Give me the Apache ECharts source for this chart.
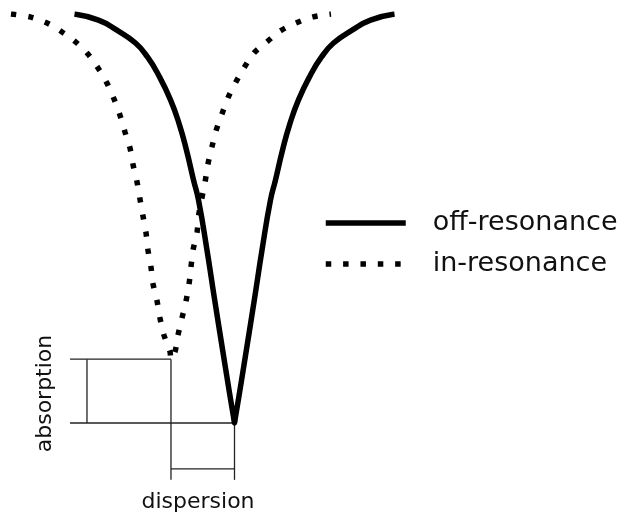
<!DOCTYPE html>
<html><head><meta charset="utf-8">
<script src="https://cdn.jsdelivr.net/npm/echarts@6/dist/echarts.min.js"></script>
<style>html,body{margin:0;padding:0;background:#fff}#c{width:623px;height:518px}</style>
</head><body><div id="c"></div>
<script>
// ---- data (detuning in arbitrary units, level = relative transmission) ----
const seriesNames = ['off-resonance', 'in-resonance'];
const offDetuning = [-10.0, -8.5, -7.375, -6.19, -5.44, -4.75, -4.0, -3.44, -3.0, -2.56, -2.25, -1.72, -1.24, -0.74, -0.31, -0.05, 0,
                     0.05, 0.31, 0.74, 1.24, 1.72, 2.25, 2.56, 3.0, 3.44, 4.0, 4.75, 5.44, 6.19, 7.375, 8.5, 10.0];
const offLevel    = [1.000, 0.985, 0.961, 0.929, 0.895, 0.851, 0.790, 0.729, 0.667, 0.594, 0.545, 0.423, 0.301, 0.178, 0.073, 0.012, 0,
                     0.012, 0.073, 0.178, 0.301, 0.423, 0.545, 0.594, 0.667, 0.729, 0.790, 0.851, 0.895, 0.929, 0.961, 0.985, 1.000];
const inDetuning  = [-13.97, -12.78, -11.72, -10.78, -9.91, -9.16, -8.53, -7.97, -7.53, -7.16, -6.84, -6.53, -6.34, -6.09,
                     -5.91, -5.72, -5.53, -5.41, -5.22, -5.09, -4.84, -4.66, -4.41, -4.03, -3.97,
                     -3.72, -3.53, -3.28, -3.03, -2.84, -2.72, -2.59, -2.34, -2.22, -1.84, -1.66, -1.41, -1.16, -0.78,
                     -0.41, 0.09, 0.59, 1.22, 2.03, 2.84, 3.84, 4.91, 6.03];
const inLevel     = [1.000, 0.993, 0.978, 0.956, 0.931, 0.902, 0.868, 0.831, 0.792, 0.753, 0.711, 0.672, 0.631, 0.589,
                     0.548, 0.506, 0.465, 0.423, 0.381, 0.340, 0.298, 0.257, 0.215, 0.174, 0.156,
                     0.174, 0.215, 0.257, 0.298, 0.340, 0.381, 0.423, 0.467, 0.513, 0.589, 0.633, 0.675, 0.714, 0.756,
                     0.795, 0.834, 0.868, 0.905, 0.932, 0.958, 0.978, 0.993, 1.000];
const annotationLabels = ['absorption', 'dispersion'];
// line minima used by the brackets: [in-resonance, off-resonance]
const minDetuning = [-3.97, 0];
const minLevel = [0.156, 0];

// ---- layout constants for the brackets (axis units) ----
const bracketLeft = -10.28, bracketAbsX = -9.22, bracketTickEnd = -0.139, bracketDispY = -0.112;

const chart = echarts.init(document.getElementById('c'), null, {renderer: 'canvas'});
const FONT = 'DejaVu Sans';
const pairs = (xs, ys) => xs.map((x, i) => [x, ys[i]]);
const annot = (data) => ({
  type: 'line', data, symbol: 'none', clip: false, silent: true, z: 1,
  lineStyle: {color: '#222', width: 1.3}, animation: false
});
const legendBase = (name, top) => ({
  data: [name], left: 323, top, padding: 0, itemWidth: 80, itemHeight: 27,
  itemStyle: {opacity: 0}, lineStyle: {width: 5.5},
  textStyle: {fontFamily: FONT, fontSize: 27, color: '#111', padding: [0, 0, 0, 22]}
});

chart.setOption({
  animation: false,
  textStyle: {fontFamily: FONT},
  grid: {left: 10.5, width: 400, top: 14, bottom: 95, containLabel: false, show: false},
  xAxis: {type: 'value', min: -14, max: 11, show: false},
  yAxis: {type: 'value', min: 0, max: 1, show: false},
  legend: [legendBase(seriesNames[0], 209.5), legendBase(seriesNames[1], 250.5)],
  series: [
    {name: seriesNames[0], type: 'line', data: pairs(offDetuning, offLevel), symbol: 'none', smooth: 0.5,
     lineStyle: {color: '#000', width: 5.5, join: 'miter', miterLimit: 10}, itemStyle: {color: '#000'}, z: 3},
    {name: seriesNames[1], type: 'line', data: pairs(inDetuning, inLevel), symbol: 'none', smooth: 0.3,
     lineStyle: {color: '#000', width: 5.5, type: [5.5, 11.85], cap: 'butt'}, itemStyle: {color: '#000'}, z: 3},
    // absorption bracket
    annot([[bracketLeft, minLevel[0]], [minDetuning[0], minLevel[0]]]),
    annot([[bracketLeft, minLevel[1]], [minDetuning[1], minLevel[1]]]),
    annot([[bracketAbsX, minLevel[0]], [bracketAbsX, minLevel[1]]]),
    // dispersion bracket
    annot([[minDetuning[0], minLevel[0]], [minDetuning[0], bracketTickEnd]]),
    annot([[minDetuning[1], minLevel[1]], [minDetuning[1], bracketTickEnd]]),
    annot([[minDetuning[0], bracketDispY], [minDetuning[1], bracketDispY]])
  ],
  graphic: [
    {type: 'text', x: 45, y: 393.5, rotation: Math.PI / 2,
     style: {text: annotationLabels[0], font: '22px "DejaVu Sans"', fill: '#111', align: 'center', verticalAlign: 'middle'}},
    {type: 'text', x: 198, y: 502,
     style: {text: annotationLabels[1], font: '22px "DejaVu Sans"', fill: '#111', align: 'center', verticalAlign: 'middle'}}
  ]
});
</script></body></html>
